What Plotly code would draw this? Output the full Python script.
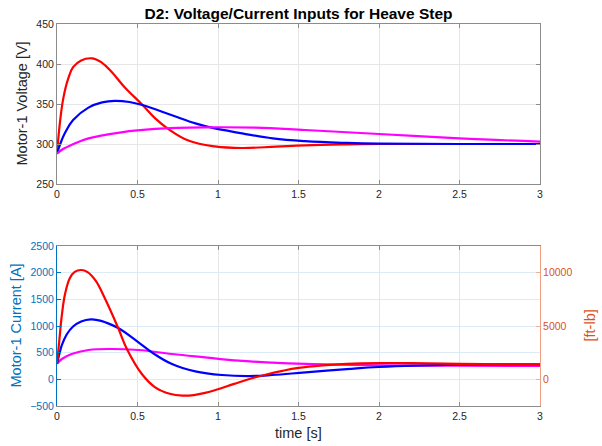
import plotly.graph_objects as go

# ---------------- data ----------------
# Top: Motor-1 voltage [V]
t_v_red = [0, 0.02, 0.04, 0.07, 0.1, 0.15, 0.22, 0.28, 0.34, 0.42, 0.53, 0.61, 0.69, 0.82, 0.98, 1.15, 1.36, 1.54, 1.8, 2.0, 2.5, 3.0]
v_red = [288, 330, 358, 382, 396, 404.5, 407, 401.5, 390, 371, 349, 332, 319, 304, 297, 295, 296.7, 298.3, 299.5, 300, 300, 300]

t_v_blue = [0, 0.02, 0.05, 0.1, 0.195, 0.28, 0.36, 0.45, 0.53, 0.71, 0.86, 0.96, 1.15, 1.34, 1.54, 1.8, 2.0, 2.5, 3.0]
v_blue = [288, 300, 314, 330, 345.5, 352, 354, 352.5, 348.7, 336.3, 325.8, 320.4, 313.3, 307, 303.5, 301.3, 300.4, 300, 300]

t_v_mag = [0, 0.04, 0.09, 0.195, 0.4, 0.61, 0.92, 1.23, 1.54, 2.0, 2.5, 3.0]
v_mag = [288, 294, 298.8, 307, 314.6, 318.8, 320.8, 320.4, 317.5, 312.5, 307, 303]

# Bottom: Motor-1 current [A]
t_i_red = [0, 0.015, 0.03, 0.05, 0.08, 0.11, 0.15, 0.19, 0.24, 0.3, 0.38, 0.434, 0.527, 0.61, 0.7, 0.78, 0.85, 0.92, 1.0, 1.1, 1.2, 1.3, 1.4, 1.5, 1.65, 1.8, 2.0, 2.2, 2.5, 3.0]
i_red = [290, 750, 1200, 1600, 1900, 2015, 2050, 2010, 1850, 1500, 962, 569, 100, -150, -270, -306, -295, -255, -185, -85, 10, 90, 160, 215, 262, 290, 305, 303, 290, 275]

t_i_blue = [0, 0.015, 0.03, 0.06, 0.1, 0.15, 0.21, 0.26, 0.3, 0.38, 0.506, 0.589, 0.714, 0.859, 1.025, 1.19, 1.336, 1.544, 1.8, 2.0, 2.5, 3.0]
i_blue = [290, 480, 640, 840, 990, 1085, 1125, 1105, 1069, 962, 694, 506, 287, 150, 81, 62, 81, 131, 190, 231, 275, 281]

t_i_mag = [0, 0.03, 0.091, 0.195, 0.34, 0.506, 0.714, 0.92, 1.129, 1.336, 1.544, 2.0, 2.5, 3.0]
i_mag = [290, 381, 475, 550, 569, 550, 475, 412, 350, 312, 288, 262, 255, 250]

x_ticks = [0, 0.5, 1, 1.5, 2, 2.5, 3]
x_ticktext = ["0", "0.5", "1", "1.5", "2", "2.5", "3"]
v_ticks = [250, 300, 350, 400, 450]
i_ticks = [-500, 0, 500, 1000, 1500, 2000, 2500]
tq_ticks = [0, 5000, 10000]
tq_ticktext = ["0", "5000", "10000"]

title_text = "D2: Voltage/Current Inputs for Heave Step"

# ---------------- figure ----------------
FONT = "Liberation Sans, Arial, Helvetica, sans-serif"
GRAY = "#262626"
AXGRAY = "#8c8c8c"
BLUE_AX = "#0072BD"
ORANGE_AX = "#D95319"
LW = 2.2

fig = go.Figure()

def add(t, v, color, xa, ya):
    fig.add_trace(go.Scatter(x=t, y=v, mode="lines", xaxis=xa, yaxis=ya,
                             line=dict(color=color, width=LW, shape="spline", smoothing=1.15),
                             showlegend=False, hoverinfo="skip"))

add(t_v_red, v_red, "#FF0000", "x", "y")
add(t_v_blue, v_blue, "#0000FF", "x", "y")
add(t_v_mag, v_mag, "#FF00FF", "x", "y")

add(t_i_mag, i_mag, "#FF00FF", "x2", "y2")
add(t_i_blue, i_blue, "#0000FF", "x2", "y2")
add(t_i_red, i_red, "#FF0000", "x2", "y2")

# dummy trace to materialise right axis
fig.add_trace(go.Scatter(x=[0], y=[None], xaxis="x2", yaxis="y3", mode="lines",
                         showlegend=False, hoverinfo="skip"))

W, H = 602, 446
L, R, T, B = 57, 62, 24, 40
ph = H - T - B
top_dom = [(H - B - 184) / ph, 1.0]
bot_dom = [0.0, (H - B - 246) / ph]

xcommon = dict(range=[0, 3], tickvals=x_ticks, ticktext=x_ticktext, showgrid=True,
               gridcolor="#E6E6E6", gridwidth=1, showline=True, linecolor=AXGRAY, linewidth=1,
               mirror="ticks", ticks="inside", ticklen=4, tickcolor=AXGRAY,
               tickfont=dict(family=FONT, size=10.5, color=GRAY), zeroline=False, fixedrange=True)

fig.update_layout(
    width=W, height=H,
    margin=dict(l=L, r=R, t=T, b=B),
    paper_bgcolor="white", plot_bgcolor="white",
    showlegend=False,
    xaxis=dict(domain=[0, 1], anchor="y", **xcommon),
    yaxis=dict(domain=top_dom, anchor="x", range=[250, 450], tickvals=v_ticks,
               showgrid=True, gridcolor="#E6E6E6", showline=True, linecolor=AXGRAY,
               mirror="ticks", ticks="inside", ticklen=4, tickcolor=AXGRAY,
               tickfont=dict(family=FONT, size=10.5, color=GRAY), zeroline=False),
    xaxis2=dict(domain=[0, 1], anchor="y2", **xcommon),
    yaxis2=dict(domain=bot_dom, anchor="x2", range=[-500, 2500], tickvals=i_ticks,
                showgrid=True, gridcolor="#DDEBF6", showline=True, linecolor=BLUE_AX,
                mirror=False, ticks="inside", ticklen=4, tickcolor=BLUE_AX,
                tickfont=dict(family=FONT, size=10.5, color=BLUE_AX), zeroline=False),
    yaxis3=dict(overlaying="y2", side="right", anchor="x2", range=[-2500, 12500],
                tickvals=tq_ticks, ticktext=tq_ticktext, showgrid=False, showline=True,
                linecolor="#F0A080", ticks="inside", ticklen=4, tickcolor="#F0B090",
                tickfont=dict(family=FONT, size=10.5, color=ORANGE_AX), zeroline=False),
    title=dict(text="<b>" + title_text + "</b>", x=0.5, xref="paper", xanchor="center",
               y=1 - 14 / H, yref="container", yanchor="middle",
               font=dict(family=FONT, size=15.5, color="#000000")),
)

def px_to_paper_x(px):
    return (px - L) / (W - L - R)

def px_to_paper_y(py):
    return (H - B - py) / ph

annots = [
    dict(text="Motor-1 Voltage [V]", x=px_to_paper_x(21.5), y=px_to_paper_y(104),
         textangle=-90, font=dict(family=FONT, size=14.5, color=GRAY)),
    dict(text="Motor-1 Current [A]", x=px_to_paper_x(15.5), y=px_to_paper_y(326),
         textangle=-90, font=dict(family=FONT, size=14.5, color=BLUE_AX)),
    dict(text="[ft-lb]", x=px_to_paper_x(589.5), y=px_to_paper_y(326),
         textangle=-90, font=dict(family=FONT, size=14.5, color=ORANGE_AX)),
    dict(text="time [s]", x=px_to_paper_x(298.5), y=px_to_paper_y(433),
         textangle=0, font=dict(family=FONT, size=14.5, color=GRAY)),
]
for a in annots:
    fig.add_annotation(xref="paper", yref="paper", xanchor="center", yanchor="middle",
                       showarrow=False, **a)

fig.write_html("out.html")
